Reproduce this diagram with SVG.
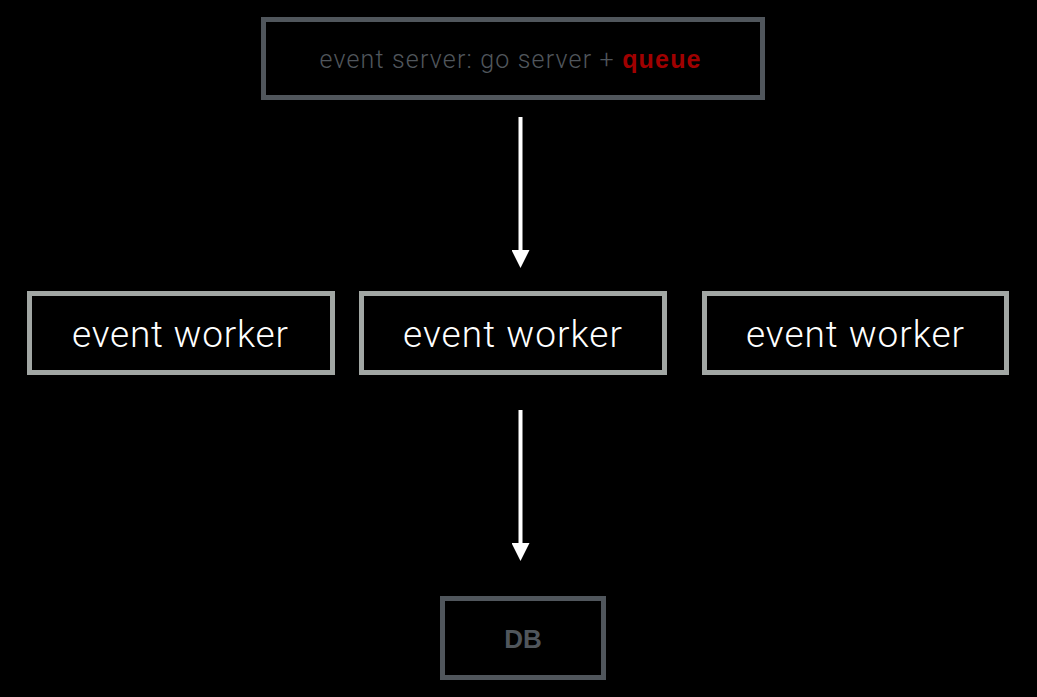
<svg xmlns="http://www.w3.org/2000/svg" width="1037" height="697" viewBox="0 0 1037 697">
<defs>
<style>
.dark{fill:#000;stroke:#50565c;stroke-width:5}
.worker{fill:#000;stroke:#a2a7a4;stroke-width:5}
.wt{font-family:"Roboto","Liberation Sans",sans-serif;font-weight:300;font-size:37px;fill:#fff;text-anchor:middle}
.st{font-family:"Roboto","Liberation Sans",sans-serif;font-weight:300;font-size:25px;fill:#50565c;text-anchor:middle}
.q{font-family:"Liberation Sans",sans-serif;font-weight:700;fill:#a00000}
.db{font-family:"Liberation Sans",sans-serif;font-weight:700;font-size:26px;fill:#50565c;text-anchor:middle}
.conn{stroke:#fff;stroke-width:4;fill:none}
</style>
<marker id="ah" viewBox="0 0 18 18" refX="0" refY="9" markerWidth="18" markerHeight="18" markerUnits="userSpaceOnUse" orient="auto">
<path d="M0,0 L18,9 L0,18 Z" fill="#fff"/>
</marker>
</defs>
<rect width="1037" height="697" fill="#000"/>
<g id="server">
<rect class="dark" x="263.5" y="19.5" width="499" height="78"/>
<text class="st" x="510" y="68" textLength="381">event server: go server + <tspan class="q">queue</tspan></text>
</g>
<g id="worker1">
<rect class="worker" x="29.5" y="293.5" width="303" height="79"/>
<text class="wt" x="180" y="347" textLength="216">event worker</text>
</g>
<g id="worker2">
<rect class="worker" x="361.5" y="293.5" width="303" height="79"/>
<text class="wt" x="512.5" y="347" textLength="219">event worker</text>
</g>
<g id="worker3">
<rect class="worker" x="704.5" y="293.5" width="302" height="79"/>
<text class="wt" x="855" y="347" textLength="218">event worker</text>
</g>
<g id="db">
<rect class="dark" x="442.5" y="598.5" width="161" height="79"/>
<text class="db" x="523" y="648">DB</text>
</g>
<g id="connectors">
<line class="conn" x1="520.5" y1="117" x2="520.5" y2="250" marker-end="url(#ah)"/>
<line class="conn" x1="520.5" y1="410" x2="520.5" y2="543" marker-end="url(#ah)"/>
</g>
</svg>
